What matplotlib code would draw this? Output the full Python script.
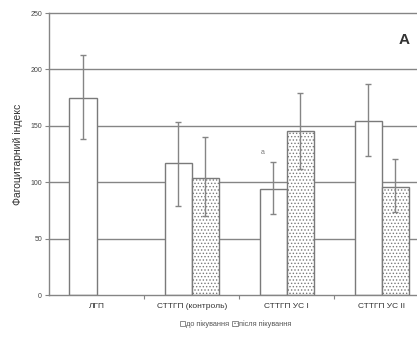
import matplotlib
matplotlib.use("Agg")
import matplotlib.pyplot as plt
import numpy as np
from matplotlib.patches import Patch

plt.rcParams["font.family"] = ["Liberation Sans", "DejaVu Sans"]
plt.rcParams["hatch.color"] = "#a0a0a0"
plt.rcParams["hatch.linewidth"] = 0.6

categories = ["ЛГП", "СТТГП (контроль)", "СТТГП УС I", "СТТГП УС II"]
before = [175, 117, 94, 154]
before_lo = [138, 79, 72, 123]
before_hi = [213, 153, 118, 187]
after = [np.nan, 104, 145, 96]
after_lo = [np.nan, 70, 112, 74]
after_hi = [np.nan, 140, 179, 121]
series_labels = ["до пікування", "після пікування"]
y_ticks = [0, 50, 100, 150, 200, 250]

GRAY = "#858585"
EDGE = "#7a7a7a"

fig = plt.figure(figsize=(4.17, 3.38), dpi=100)
ax = fig.add_axes([0.1175, 0.127, 0.8825, 0.8345])

x = np.arange(len(categories))
w = 0.285

def draw(xpos, vals, lo, hi, hatch):
    vals = np.asarray(vals, float)
    ok = ~np.isnan(vals)
    ax.bar(xpos[ok], vals[ok], width=w, color="white", edgecolor=EDGE,
           linewidth=1.0, hatch=hatch, zorder=2)
    yerr = np.array([vals[ok] - np.asarray(lo, float)[ok],
                     np.asarray(hi, float)[ok] - vals[ok]])
    ax.errorbar(xpos[ok], vals[ok], yerr=yerr, fmt="none", ecolor=GRAY,
                elinewidth=1.0, capsize=2, capthick=1.0, zorder=3)

draw(x - w / 2, before, before_lo, before_hi, None)
draw(x + w / 2, after, after_lo, after_hi, ".....")

for yv in y_ticks[1:]:
    ax.axhline(yv, color=GRAY, linewidth=1.0, zorder=1, clip_on=False)

ax.text(x[2] - w / 2 - 0.11, 123, "а", fontsize=5, color="#777777",
        ha="center", va="bottom")

ax.set_xlim(-0.5, 3.37)
ax.set_ylim(0, 250)
ax.set_yticks(y_ticks)
ax.set_yticklabels([str(v) for v in y_ticks], fontsize=5, color="#444444")
ax.set_xticks(x)
ax.set_xticklabels(categories, fontsize=6, color="#333333")
ax.tick_params(axis="x", length=0, pad=6)
ax.tick_params(axis="y", length=3, width=0.8, color=GRAY, pad=2)
ax.set_xticks(np.arange(len(categories) - 1) + 0.5, minor=True)
ax.tick_params(axis="x", which="minor", length=3, width=0.8, color=GRAY)

for side in ("top", "right"):
    ax.spines[side].set_visible(False)
for side in ("left", "bottom"):
    ax.spines[side].set_color(GRAY)
    ax.spines[side].set_linewidth(1.0)

ax.set_ylabel("Фагоцитарний індекс", fontsize=7.5, color="#333333", labelpad=5)
ax.text(0.965, 0.905, "A", transform=ax.transAxes, fontsize=11,
        fontweight="bold", color="#333333", ha="center", va="center")

handles = [Patch(facecolor="white", edgecolor=EDGE, linewidth=0.6),
           Patch(facecolor="white", edgecolor=EDGE, linewidth=0.6, hatch=".....")]
fig.legend(handles, series_labels, loc="center", bbox_to_anchor=(0.565, 0.042),
           ncol=2, frameon=False, fontsize=5.3, handlelength=0.7,
           handleheight=0.7, handletextpad=0.2, columnspacing=0.4,
           labelcolor="#555555")

fig.savefig("out.png", dpi=100)
